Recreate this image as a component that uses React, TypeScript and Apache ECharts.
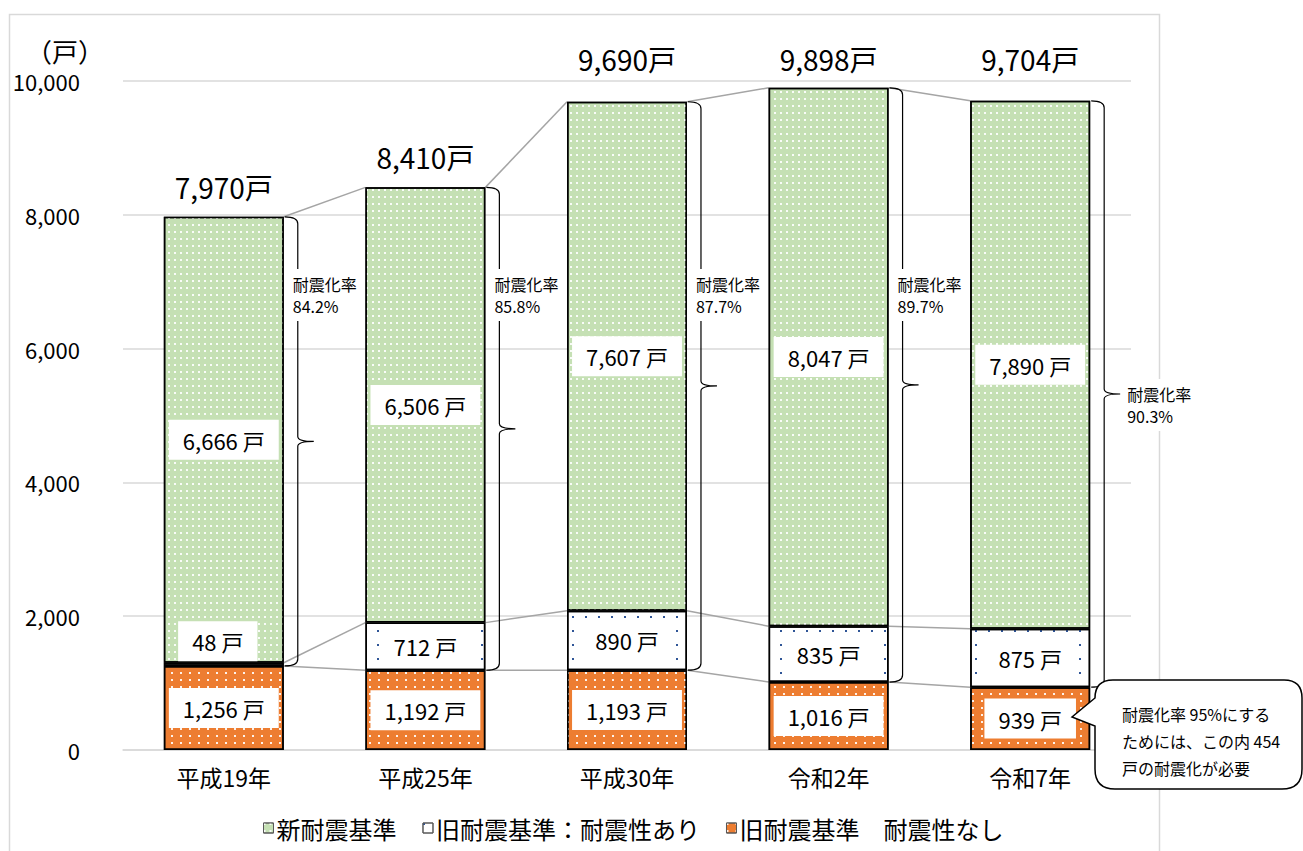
import React, { useEffect, useRef } from 'react';
import * as echarts from 'echarts';

const CATEGORIES = ['平成19年', '平成25年', '平成30年', '令和2年', '令和7年'];
const NEW_STANDARD = [6666, 6506, 7607, 8047, 7890];
const OLD_RESISTANT = [48, 712, 890, 835, 875];
const OLD_NOT_RESISTANT = [1256, 1192, 1193, 1016, 939];
const TOTALS = [7970, 8410, 9690, 9898, 9704];
const RATES = ['84.2%', '85.8%', '87.7%', '89.7%', '90.3%'];
const Y_TICKS = [0, 2000, 4000, 6000, 8000, 10000];
const SERIES_NAMES = ['新耐震基準', '旧耐震基準：耐震性あり', '旧耐震基準　耐震性なし'];
const RATE_TITLE = '耐震化率';
const CALLOUT_LINES = ['耐震化率 95%にする', 'ためには、この内 454', '戸の耐震化が必要'];
const UNIT_LABEL = '（戸）';

const FONT = '"Noto Sans CJK JP", "Noto Sans", sans-serif';
const BAR_RATIO = 0.595;
const GREEN = '#C5E0B4';
const ORANGE = '#ED7D31';
const LINK = '#A5A5A5';
const RATE_TEXT_LEVEL = 6800;
const SMALL = 200;

const fmt = (v: number) => v.toLocaleString('en-US');

const CALLOUT_D =
  'M1113,680 L1284,680 Q1302,680 1302,698 L1302,769 Q1302,789 1282,789 L1115,789 Q1095,789 1095,769 L1095,726 L1072,717 L1095,698 Q1095,680 1113,680 Z';

export default function App() {
  const ref = useRef<HTMLDivElement>(null);
  useEffect(() => {
    document.body.style.margin = '0';
    try {
      echarts.graphic.registerShape('callout', echarts.graphic.extendPath(CALLOUT_D, {}));
    } catch (e) {}
    const chart = echarts.init(ref.current as HTMLDivElement, null, { renderer: 'svg' });

    const lvl0 = OLD_NOT_RESISTANT.slice();
    const lvl1 = OLD_NOT_RESISTANT.map((v, i) => v + OLD_RESISTANT[i]);
    const lvl2 = TOTALS.slice();
    const connectorData: number[][] = [];
    [lvl0, lvl1, lvl2].forEach((lv) => {
      for (let i = 0; i < lv.length - 1; i++) connectorData.push([i, lv[i], lv[i + 1]]);
    });
    const braceData = CATEGORIES.map((_, i) => [i, lvl0[i], lvl2[i]]);
    const totalData = CATEGORIES.map((_, i) => [i, TOTALS[i]]);
    const leaderData: number[][] = [];
    OLD_RESISTANT.forEach((v, i) => {
      if (v < SMALL) leaderData.push([i, lvl0[i] + v / 2]);
    });

    const labelBase = {
      show: true,
      position: 'inside',
      formatter: (p: any) => fmt(p.value) + ' 戸',
      fontSize: 22,
      lineHeight: 24,
      color: '#000',
      backgroundColor: '#fff',
      padding: [8, 14],
      fontFamily: FONT,
    };

    const barCommon = {
      type: 'bar',
      stack: 'total',
      barWidth: BAR_RATIO * 100 + '%',
      label: labelBase,
      z: 3,
    };

    const option: any = {
      animation: false,
      textStyle: { fontFamily: FONT },
      grid: { left: 123, right: 172, top: 81, bottom: 101 },
      legend: {
        data: SERIES_NAMES,
        left: 258,
        top: 811,
        icon: 'rect',
        itemWidth: 10,
        itemHeight: 10,
        itemGap: 26,
        textStyle: { fontSize: 24, color: '#000', fontFamily: FONT, padding: [0, 0, 0, -2] },
        itemStyle: { borderColor: '#595959', borderWidth: 1 },
      },
      xAxis: {
        type: 'category',
        data: CATEGORIES,
        axisLine: { show: true, lineStyle: { color: '#D9D9D9', width: 1.5 } },
        axisTick: { show: false },
        axisLabel: { fontSize: 23, color: '#000', margin: 15, fontFamily: FONT },
      },
      yAxis: {
        type: 'value',
        min: Y_TICKS[0],
        max: Y_TICKS[Y_TICKS.length - 1],
        interval: Y_TICKS[1] - Y_TICKS[0],
        axisLine: { show: false },
        axisTick: { show: false },
        splitLine: { lineStyle: { color: '#D9D9D9', width: 1.5 } },
        axisLabel: {
          fontSize: 22,
          color: '#000',
          margin: 43,
          fontFamily: FONT,
          formatter: (v: number) => fmt(v),
        },
      },
      graphic: [
        {
          type: 'rect',
          silent: true,
          z: 0,
          shape: { x: 9.5, y: 14.5, width: 1150, height: 900 },
          style: { fill: 'none', stroke: '#D9D9D9', lineWidth: 1.5 },
        },
        {
          type: 'text',
          x: 65,
          y: 50,
          z: 10,
          style: {
            text: UNIT_LABEL,
            fontSize: 26,
            fill: '#000',
            align: 'center',
            verticalAlign: 'middle',
            fontFamily: FONT,
          },
        },
        {
          type: 'callout',
          x: 0,
          y: 0,
          z: 100,
          style: { fill: '#fff', stroke: '#000', lineWidth: 1.5 },
        },
        {
          type: 'text',
          x: 1122,
          y: 700,
          z: 101,
          style: {
            text: CALLOUT_LINES.join('\n'),
            fontSize: 16,
            lineHeight: 27,
            fill: '#000',
            align: 'left',
            verticalAlign: 'top',
            fontFamily: FONT,
          },
        },
      ],
      series: [
        {
          ...barCommon,
          name: SERIES_NAMES[2],
          data: OLD_NOT_RESISTANT,
          itemStyle: {
            color: ORANGE,
            borderColor: '#000',
            borderWidth: 1.5,
            decal: { symbol: 'rect', symbolSize: 1, color: 'rgba(255,255,255,0.9)', dashArrayX: [2, 7], dashArrayY: [2, 5] },
          },
        },
        {
          ...barCommon,
          name: SERIES_NAMES[1],
          data: OLD_RESISTANT.map((v) =>
            v < SMALL ? { value: v, label: { offset: [-6, -23] } } : v
          ),
          itemStyle: {
            color: '#fff',
            borderColor: '#000',
            borderWidth: 1.5,
            decal: { symbol: 'rect', symbolSize: 1, color: '#2F5597', dashArrayX: [2, 11], dashArrayY: [2, 12] },
          },
        },
        {
          ...barCommon,
          name: SERIES_NAMES[0],
          data: NEW_STANDARD,
          itemStyle: {
            color: GREEN,
            borderColor: '#000',
            borderWidth: 1.5,
            decal: { symbol: 'rect', symbolSize: 1, color: 'rgba(255,255,255,0.9)', dashArrayX: [2, 4], dashArrayY: [2, 5] },
          },
        },
        {
          type: 'custom',
          name: 'connectors',
          z: 1,
          silent: true,
          data: connectorData,
          encode: { x: 0, y: 1 },
          renderItem: (params: any, api: any) => {
            const i = api.value(0);
            const p1 = api.coord([i, api.value(1)]);
            const p2 = api.coord([i + 1, api.value(2)]);
            const half = (api.size([1, 0])[0] * BAR_RATIO) / 2;
            return {
              type: 'line',
              shape: { x1: p1[0] + half, y1: p1[1], x2: p2[0] - half, y2: p2[1] },
              style: { stroke: LINK, lineWidth: 1.5 },
            };
          },
        },
        {
          type: 'custom',
          name: 'leaders',
          z: 2,
          silent: true,
          data: leaderData,
          encode: { x: 0, y: 1 },
          renderItem: (params: any, api: any) => {
            const i = api.value(0);
            const p = api.coord([i, api.value(1)]);
            const half = (api.size([1, 0])[0] * BAR_RATIO) / 2;
            const left = p[0] - half;
            return {
              type: 'polyline',
              shape: { points: [[left + 1, p[1]], [left + 4, p[1] - 22], [left + 16, p[1] - 22]] },
              style: { stroke: LINK, lineWidth: 1.5, fill: 'none' },
            };
          },
        },
        {
          type: 'custom',
          name: 'braces',
          z: 5,
          silent: true,
          data: braceData,
          encode: { x: 0, y: 2 },
          renderItem: (params: any, api: any) => {
            const i = api.value(0);
            const pB = api.coord([i, api.value(1)]);
            const pT = api.coord([i, api.value(2)]);
            const half = (api.size([1, 0])[0] * BAR_RATIO) / 2;
            const x0 = pT[0] + half + 1;
            const xv = x0 + 13;
            const xt = xv + 16;
            const yT = pT[1];
            const yB = pB[1];
            const yM = (yT + yB) / 2;
            const d = `M${x0},${yT} Q${xv},${yT} ${xv},${yT + 7} L${xv},${yM - 5} Q${xv},${yM} ${xt},${yM} Q${xv},${yM} ${xv},${yM + 5} L${xv},${yB - 7} Q${xv},${yB} ${x0},${yB}`;
            const last = i === CATEGORIES.length - 1;
            const text = RATE_TITLE + '\n' + RATES[i];
            const baseStyle = {
              text,
              fontSize: 16,
              lineHeight: 22,
              fill: '#000',
              backgroundColor: '#fff',
              padding: [4, 2],
              align: 'left',
              fontFamily: FONT,
            };
            const textEl = last
              ? {
                  type: 'text',
                  x: xt + 5,
                  y: yM - 15,
                  style: { ...baseStyle, verticalAlign: 'top' },
                }
              : {
                  type: 'text',
                  x: x0 + 6,
                  y: api.coord([i, RATE_TEXT_LEVEL])[1],
                  style: { ...baseStyle, verticalAlign: 'middle' },
                };
            return {
              type: 'group',
              children: [
                {
                  type: 'path',
                  shape: { pathData: d },
                  style: { stroke: '#000', lineWidth: 1.2, fill: 'none' },
                },
                textEl,
              ],
            };
          },
        },
        {
          type: 'custom',
          name: 'totals',
          z: 6,
          silent: true,
          data: totalData,
          encode: { x: 0, y: 1 },
          renderItem: (params: any, api: any) => {
            const i = api.value(0);
            const p = api.coord([i, api.value(1)]);
            const cap = api.coord([i, Y_TICKS[Y_TICKS.length - 1]])[1] - 22;
            const natural = p[1] - 30;
            return {
              type: 'text',
              x: p[0],
              y: natural < cap + 20 ? cap : natural,
              style: {
                text: fmt(TOTALS[i]) + '戸',
                fontSize: 28,
                fill: '#000',
                align: 'center',
                verticalAlign: 'middle',
                fontFamily: FONT,
              },
            };
          },
        },
      ],
    };

    chart.setOption(option);
    return () => chart.dispose();
  }, []);

  return <div ref={ref} style={{ width: 1303, height: 851 }} />;
}
